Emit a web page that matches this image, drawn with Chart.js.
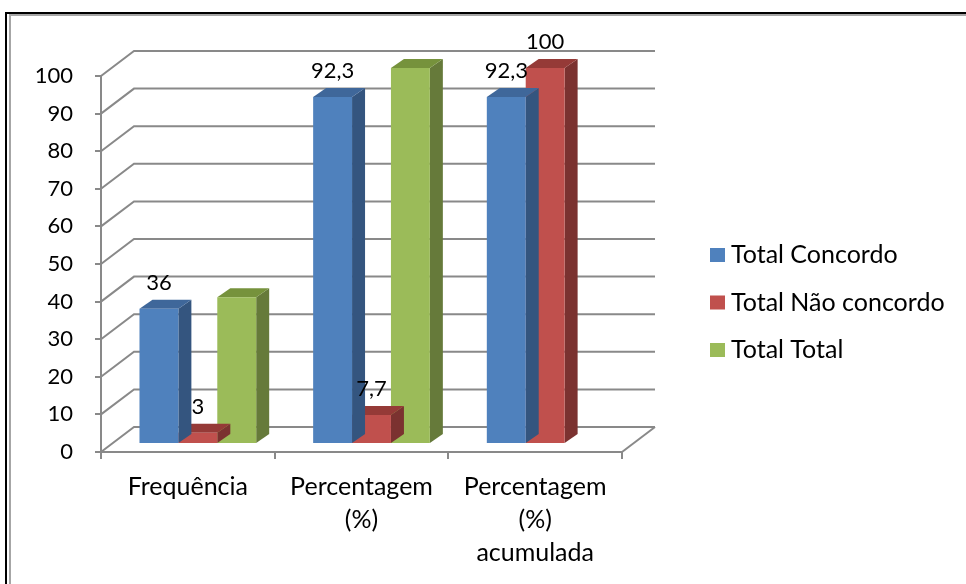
<!DOCTYPE html>
<html>
<head>
<meta charset="utf-8">
<script src="https://cdn.jsdelivr.net/npm/chart.js@4.4.1/dist/chart.umd.min.js"></script>
<style>
  html, body { margin: 0; padding: 0; background: #fff; }
  #wrap { width: 966px; height: 584px; }
</style>
</head>
<body>
<div id="wrap"><canvas id="chart"></canvas></div>
<script>
// data
const categories = [['Frequência'], ['Percentagem', '(%)'], ['Percentagem', '(%)', 'acumulada']];
const seriesNames = ['Total Concordo', 'Total Não concordo', 'Total Total'];
const totalConcordo = [36, 92.3, 92.3];
const totalNaoConcordo = [3, 7.7, 100];
const totalTotal = [39, 100, null];
const showLabels = [true, true, false];
const yMin = 0, yMax = 100, yStep = 10;

const FONT = 'Lato, "Open Sans", sans-serif';
const GRID = '#898989';

// front, side, top colours per series
const colors = [
  { front: '#4F81BD', side: '#34557F', top: '#3F679A' },
  { front: '#C0504D', side: '#7B3230', top: '#953A37' },
  { front: '#9BBB59', side: '#667A3A', top: '#76923C' }
];

const WALL_DX = 33, WALL_DY = -25;   // depth of the back wall
const BAR_SHIFT_X = 10, BAR_SHIFT_Y = -8; // bars sit a bit inside the floor
const BAR_DX = 13, BAR_DY = -9;      // depth of each bar

const fmt = v => String(v).replace('.', ',');

const walls3d = {
  id: 'walls3d',
  beforeDraw(chart) {
    const ctx = chart.ctx;
    ctx.save();
    // outer frame (only top and left edges are inside the picture)
    ctx.fillStyle = '#000';
    ctx.fillRect(5, 12, 2, 600);
    ctx.fillRect(5, 12, 1000, 2);
    ctx.fillStyle = '#a6a6a6';
    ctx.fillRect(9, 14, 2, 600);
    ctx.fillRect(9, 14, 1000, 2);
    ctx.restore();
  },
  beforeDatasetsDraw(chart) {
    const ctx = chart.ctx;
    const y = chart.scales.y;
    const a = chart.chartArea;
    ctx.save();
    ctx.strokeStyle = GRID;
    ctx.lineWidth = 2;
    for (let v = yMin; v <= yMax; v += yStep) {
      const py = y.getPixelForValue(v);
      ctx.beginPath();
      ctx.moveTo(a.left, py);
      ctx.lineTo(a.left + WALL_DX, py + WALL_DY);
      ctx.lineTo(a.right + WALL_DX, py + WALL_DY);
      ctx.stroke();
    }
    // right edge of the floor
    ctx.beginPath();
    ctx.moveTo(a.right, a.bottom);
    ctx.lineTo(a.right + WALL_DX, a.bottom + WALL_DY);
    ctx.stroke();
    ctx.restore();

    ctx.save();
    ctx.translate(BAR_SHIFT_X, BAR_SHIFT_Y);
  },
  beforeDatasetDraw(chart, args) {
    const ctx = chart.ctx;
    const c = colors[args.index];
    args.meta.data.forEach((bar, i) => {
      if (chart.data.datasets[args.index].data[i] == null) return;
      const { x, y, base, width } = bar.getProps(['x', 'y', 'base', 'width'], true);
      const l = x - width / 2, r = x + width / 2;
      ctx.fillStyle = c.side;
      ctx.beginPath();
      ctx.moveTo(r, y);
      ctx.lineTo(r + BAR_DX, y + BAR_DY);
      ctx.lineTo(r + BAR_DX, base + BAR_DY);
      ctx.lineTo(r, base);
      ctx.closePath();
      ctx.fill();
      ctx.fillStyle = c.top;
      ctx.beginPath();
      ctx.moveTo(l, y);
      ctx.lineTo(l + BAR_DX, y + BAR_DY);
      ctx.lineTo(r + BAR_DX, y + BAR_DY);
      ctx.lineTo(r, y);
      ctx.closePath();
      ctx.fill();
    });
  },
  afterDatasetsDraw(chart) {
    const ctx = chart.ctx;
    ctx.font = '22px ' + FONT;
    ctx.fillStyle = '#000';
    ctx.textAlign = 'center';
    ctx.textBaseline = 'middle';
    chart.data.datasets.forEach((ds, di) => {
      if (!showLabels[di]) return;
      chart.getDatasetMeta(di).data.forEach((bar, i) => {
        if (ds.data[i] == null) return;
        ctx.fillText(fmt(ds.data[i]), bar.x, bar.y - 26);
      });
    });
    ctx.restore();
  },
  afterDraw(chart) {
    const ctx = chart.ctx;
    ctx.save();
    ctx.font = '25px ' + FONT;
    ctx.textAlign = 'left';
    ctx.textBaseline = 'middle';
    chart.data.datasets.forEach((ds, i) => {
      const cy = 255 + i * 47.5;
      ctx.fillStyle = ds.backgroundColor;
      ctx.fillRect(710, cy - 7, 15, 14);
      ctx.fillStyle = '#000';
      ctx.fillText(ds.label, 731, cy);
    });
    ctx.restore();
  }
};

new Chart(document.getElementById('chart'), {
  type: 'bar',
  data: {
    labels: categories,
    datasets: [
      { label: seriesNames[0], data: totalConcordo, backgroundColor: colors[0].front },
      { label: seriesNames[1], data: totalNaoConcordo, backgroundColor: colors[1].front },
      { label: seriesNames[2], data: totalTotal, backgroundColor: colors[2].front }
    ]
  },
  options: {
    responsive: true,
    maintainAspectRatio: false,
    animation: false,
    devicePixelRatio: 1,
    layout: { padding: { top: 76, left: 0, right: 344, bottom: 0 } },
    datasets: {
      bar: { borderWidth: 0, barPercentage: 1, categoryPercentage: 0.672, clip: false }
    },
    plugins: {
      legend: { display: false },
      tooltip: { enabled: false }
    },
    scales: {
      x: {
        afterFit: s => { s.height = 132; },
        border: { display: true, color: GRID, width: 2 },
        grid: { drawOnChartArea: false, drawTicks: true, tickLength: 7, color: GRID, lineWidth: 2 },
        ticks: { color: '#000', font: { family: FONT, size: 25, lineHeight: 1.32 }, padding: 11, maxRotation: 0, autoSkip: false }
      },
      y: {
        min: yMin,
        max: yMax,
        afterFit: s => { s.width = 101; },
        border: { display: true, color: GRID, width: 2 },
        grid: { drawOnChartArea: false, drawTicks: true, tickLength: 6, color: GRID, lineWidth: 2 },
        ticks: { stepSize: yStep, color: '#000', font: { family: FONT, size: 22 }, padding: 22 }
      }
    }
  },
  plugins: [walls3d]
});
</script>
</body>
</html>
